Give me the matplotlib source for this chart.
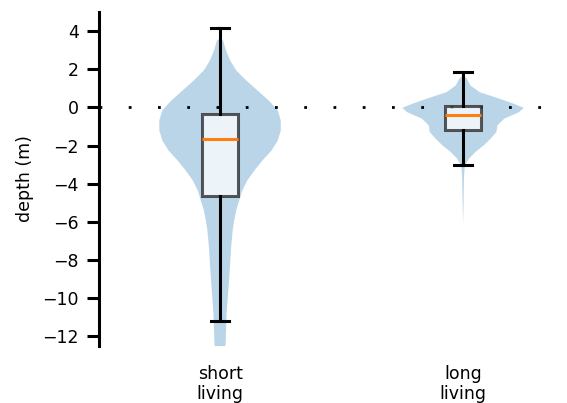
import numpy as np
import matplotlib
matplotlib.use("Agg")
import matplotlib.pyplot as plt

groups = ["short\nliving", "long\nliving"]

# violin outlines: depth (m) and relative density at that depth
short_depth = [3.62, 3.51, 2.98, 2.46, 1.94, 1.41, 0.89, 0.37, -0.16, -0.68,
               -1.2, -1.73, -2.25, -2.77, -3.3, -3.82, -4.35, -4.87, -5.39,
               -5.92, -6.44, -7.3, -9.0, -10.8, -12.4, -13.5]
short_dens = [0.0, 3, 6, 10, 16, 26, 37, 48, 57, 60,
              60, 57, 51, 42, 34, 27, 22, 19, 16,
              14, 12.5, 11, 9, 6.5, 5.5, 4]
long_depth = [1.68, 1.5, 1.15, 0.8, 0.46, 0.19, -0.02, -0.25, -0.59, -0.94,
              -1.29, -1.64, -1.99, -2.34, -2.69, -3.04, -3.4, -3.8, -5.0,
              -6.1]
long_dens = [0.0, 4, 7.5, 17, 37, 52, 62, 57, 42, 35,
             34, 28, 21, 12.5, 6, 2, 1.2, 0.9, 0.5,
             0]

# box statistics per group
whis_lo = [-11.19, -3.0]
q1 = [-4.66, -1.2]
med = [-1.64, -0.37]
q3 = [-0.35, 0.05]
whis_hi = [4.15, 1.85]

positions = [1, 2]

fig = plt.figure(figsize=(5.67, 4.03), dpi=100)
ax = fig.add_axes([0.1746, 0.1414, 0.805, 0.8288])

# each violin scaled to a max half width of 0.25
for pos, d, w in zip(positions, [short_depth, long_depth], [short_dens, long_dens]):
    hw = 0.25 * np.asarray(w) / max(w)
    ax.fill_betweenx(d, pos - hw, pos + hw, facecolor="#1f77b4", alpha=0.3,
                     linewidth=0, zorder=1)

ax.axhline(0, color="black", linewidth=2, linestyle=(0, (1, 9.53)),
           dash_capstyle="butt", zorder=2)

stats = []
for i in range(len(groups)):
    stats.append(dict(whislo=whis_lo[i], q1=q1[i], med=med[i], q3=q3[i],
                      whishi=whis_hi[i], fliers=[]))
ax.bxp(stats, positions=positions, widths=0.15, patch_artist=True,
       boxprops=dict(facecolor="white", alpha=0.75, edgecolor="#222222",
                     linewidth=2.2),
       whiskerprops=dict(color="black", linewidth=2.2),
       capprops=dict(color="black", linewidth=2.2),
       medianprops=dict(color="#ff7f0e", linewidth=2.2),
       zorder=3)

ax.set_xlim(0.502, 2.38)
ax.set_ylim(-12.5, 5)
ax.set_yticks(np.arange(-12, 5, 2))
ax.set_xticks(positions)
ax.set_xticklabels(groups, fontsize=12.5, linespacing=1.1)
ax.set_ylabel("depth (m)", fontsize=12.5, labelpad=6)

for side in ["top", "right", "bottom"]:
    ax.spines[side].set_visible(False)
ax.spines["left"].set_linewidth(2.2)
ax.tick_params(axis="y", length=8.5, width=2.2, pad=6, labelsize=12.5)
ax.tick_params(axis="x", length=0, pad=14)

fig.savefig("out.png", dpi=100)
